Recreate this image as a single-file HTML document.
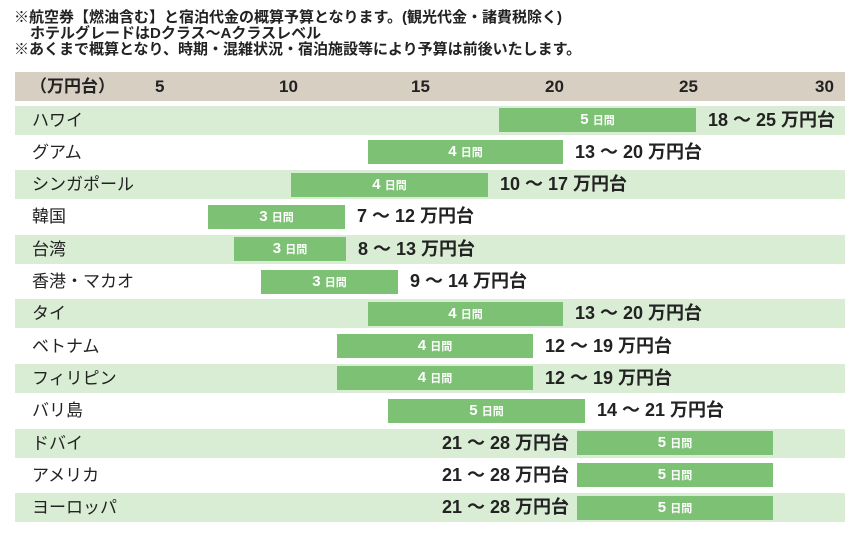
<!DOCTYPE html>
<html><head><meta charset="utf-8"><style>
body{margin:0;width:858px;height:541px;background:#fff;position:relative;overflow:hidden;font-family:"Liberation Sans","Noto Sans CJK JP",sans-serif;}
.n{position:absolute;left:14px;font-size:15px;font-weight:bold;color:#222;line-height:16px;white-space:nowrap;}
.hdr{position:absolute;left:15px;top:72px;width:830px;height:29px;background:#d8cfc3}
.t{position:absolute;top:72px;line-height:29px;font-size:17px;font-weight:bold;color:#222}
.band{position:absolute;left:15px;width:830px;height:29px}
.g{background:#d9ecd4}
.lab{position:absolute;left:32px;font-size:17px;color:#222;line-height:29px}
.bar{position:absolute;height:24px;background:#7cc174;color:#fff;font-weight:bold;font-size:15px;line-height:24px;text-align:center}
.bar small{font-size:11px}
.v{position:absolute;font-size:18px;font-weight:bold;color:#222;line-height:29px;white-space:nowrap}
</style></head><body>
<div class="n" style="top:10px">※航空券【燃油含む】と宿泊代金の概算予算となります。(観光代金・諸費税除く)</div>
<div class="n" style="top:26px;left:30px">ホテルグレードはDクラス～Aクラスレベル</div>
<div class="n" style="top:42px">※あくまで概算となり、時期・混雑状況・宿泊施設等により予算は前後いたします。</div>
<div class="hdr"></div>
<div class="t" style="left:30px">（万円台）</div>
<div class="t" style="left:155px">5</div>
<div class="t" style="left:279px">10</div>
<div class="t" style="left:411px">15</div>
<div class="t" style="left:545px">20</div>
<div class="t" style="left:679px">25</div>
<div class="t" style="left:815px">30</div>
<div id="rows"></div>
<script>
var d=[["ハワイ",499,696,5,"18 ～ 25 万円台",1],["グアム",368,563,4,"13 ～ 20 万円台",1],["シンガポール",291,488,4,"10 ～ 17 万円台",1],["韓国",208,345,3,"7 ～ 12 万円台",1],["台湾",234,346,3,"8 ～ 13 万円台",1],["香港・マカオ",261,398,3,"9 ～ 14 万円台",1],["タイ",368,563,4,"13 ～ 20 万円台",1],["ベトナム",337,533,4,"12 ～ 19 万円台",1],["フィリピン",337,533,4,"12 ～ 19 万円台",1],["バリ島",388,585,5,"14 ～ 21 万円台",1],["ドバイ",577,773,5,"21 ～ 28 万円台",0],["アメリカ",577,773,5,"21 ～ 28 万円台",0],["ヨーロッパ",577,773,5,"21 ～ 28 万円台",0]];
var h="";
d.forEach(function(r,i){var c=120+i*32.3;var top=c-14.5;
h+='<div class="band'+(i%2==0?' g':'')+'" style="top:'+top+'px"></div>';
h+='<div class="lab" style="top:'+top+'px">'+r[0]+'</div>';
h+='<div class="bar" style="top:'+(c-12)+'px;left:'+r[1]+'px;width:'+(r[2]-r[1])+'px">'+r[3]+' <small>日間</small></div>';
if(r[5])h+='<div class="v" style="top:'+top+'px;left:'+(r[2]+12)+'px">'+r[4]+'</div>';
else h+='<div class="v" style="top:'+top+'px;right:'+(858-r[1]+8)+'px">'+r[4]+'</div>';
});
document.getElementById("rows").innerHTML=h;
</script>
</body></html>
